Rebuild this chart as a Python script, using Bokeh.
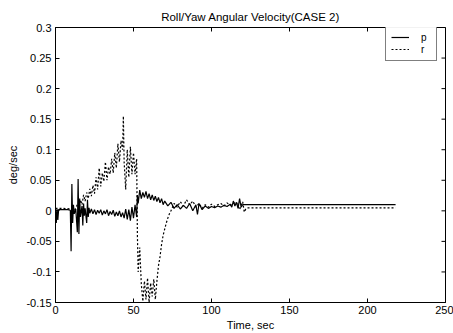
from math import pi
from bokeh.plotting import figure
from bokeh.models import Range1d, FixedTicker, Legend, LegendItem
from bokeh.embed import file_html
from bokeh.resources import INLINE

# ---- data ----
t_p = [0, 0.5, 1, 1.5, 2, 4, 6, 8, 9.5, 10, 10.5, 11, 11.5, 12, 13, 14, 14.5, 15, 15.5, 16,
       17, 17.5, 18, 18.5, 19, 20, 20.5, 21, 21.5, 22, 23, 24, 25, 26, 27, 28, 29, 30, 31, 32,
       33, 34, 35, 36, 37, 38, 39, 40, 41, 42, 43, 44, 45, 46, 47, 48, 49, 50, 51, 52,
       52.5, 53, 54, 55, 56, 57, 58, 59, 60, 61, 62, 63, 64, 65, 66, 67, 68, 69, 70, 72,
       74, 76, 78, 80, 82, 84, 86, 88, 90, 91, 92, 94, 96, 98, 100, 102, 104, 106, 108, 110,
       112, 113, 114, 115, 116, 117, 118, 119, 120, 218]
p_vals = [0.002, -0.02, 0.003, -0.015, 0.002, 0.002, 0.002, 0.002, 0.001, -0.066, 0.044, -0.02,
          0.01, -0.005, 0.003, -0.035, 0.052, -0.038, 0.02, -0.01,
          0.008, -0.024, 0.012, -0.008, 0.004, -0.02, 0.018, -0.01, 0.005, -0.004, 0.003, -0.005,
          0.002, -0.006, 0.001, -0.004, 0.002, -0.007, 0.0, -0.005,
          0.002, -0.008, -0.001, -0.006, 0.001, -0.009, -0.002, -0.008, 0.0, -0.01, -0.003, -0.012,
          0.003, -0.014, 0.002, -0.016, 0.006, -0.012, 0.01, -0.01,
          0.026, 0.012, 0.034, 0.02, 0.03, 0.022, 0.032, 0.02, 0.028, 0.018, 0.026, 0.017, 0.024,
          0.015, 0.022, 0.013, 0.02, 0.01, 0.016, 0.008,
          0.014, 0.004, 0.01, 0.003, 0.009, 0.004, 0.012, 0.0, 0.01, -0.006, 0.012, 0.002, 0.008,
          0.004, 0.007, 0.005, 0.008, 0.006, 0.009, 0.007,
          0.011, 0.006, 0.016, 0.008, 0.014, 0.004, 0.02, 0.006, 0.01, 0.01]

t_r = [0, 5, 10, 12, 14, 15, 16, 17, 18, 19, 20, 21, 22, 23, 24, 25, 26, 27, 28, 29, 30, 31,
       32, 33, 34, 35, 36, 37, 38, 39, 40, 41, 42, 43, 43.5, 44, 45, 46, 47, 48, 49, 50, 51,
       52, 52.5, 53, 54, 55, 56, 57, 58, 59, 60, 61, 62, 63, 64, 65, 66, 67, 68, 69, 70, 71,
       72, 73, 74, 75, 76, 78, 80, 82, 84, 86, 88, 90, 92, 94, 96, 98, 100, 102, 104, 106,
       108, 110, 112, 114, 116, 118, 120, 121, 122, 123, 125, 218]
r_vals = [0.004, 0.004, 0.003, 0.0, 0.01, 0.004, 0.018, 0.01, 0.026, 0.016, 0.03, 0.02, 0.036,
          0.024, 0.042, 0.028, 0.055, 0.035, 0.07, 0.04, 0.062, 0.048,
          0.08, 0.05, 0.072, 0.06, 0.085, 0.062, 0.095, 0.07, 0.11, 0.08, 0.115, 0.1, 0.155, 0.08,
          0.035, 0.1, 0.055, 0.105, 0.06, 0.095, 0.06,
          0.085, -0.04, -0.1, -0.06, -0.12, -0.148, -0.115, -0.145, -0.11, -0.15, -0.118, -0.14,
          -0.112, -0.145, -0.115, -0.09, -0.075, -0.055, -0.04, -0.03, -0.02,
          -0.012, -0.005, 0.0, 0.006, 0.012, 0.006, 0.015, 0.008, 0.018, 0.01, 0.016, 0.006,
          0.012, 0.004, 0.01, 0.006, 0.011, 0.007, 0.01, 0.012,
          0.008, 0.013, 0.009, 0.012, 0.014, 0.002, 0.015, -0.002, 0.003, 0.005, 0.005, 0.005]

x_ticks = [0, 50, 100, 150, 200, 250]
y_ticks = [-0.15, -0.1, -0.05, 0, 0.05, 0.1, 0.15, 0.2, 0.25, 0.3]
y_tick_labels = {-0.15: "-0.15", -0.1: "-0.1", -0.05: "-0.05", 0: "0", 0.05: "0.05",
                 0.1: "0.1", 0.15: "0.15", 0.2: "0.2", 0.25: "0.25", 0.3: "0.3"}

FONT = "Liberation Sans"

p = figure(width=453, height=333, output_backend="svg", toolbar_location=None,
           x_range=Range1d(x_ticks[0], x_ticks[-1]), y_range=Range1d(y_ticks[0], y_ticks[-1]),
           title="Roll/Yaw Angular Velocity(CASE 2)",
           min_border_left=55, min_border_right=8, min_border_top=27, min_border_bottom=30)
p.title.align = "center"
p.title.text_font = FONT
p.title.text_font_size = "11.5px"
p.title.text_font_style = "normal"
p.title.text_color = "black"
p.title.standoff = 10

p.xgrid.visible = False
p.ygrid.visible = False
p.outline_line_color = "black"
p.outline_line_width = 1
p.background_fill_color = "white"
p.border_fill_color = "white"

l1 = p.line(t_p, p_vals, line_color="black", line_width=1.2)
l2 = p.line(t_r, r_vals, line_color="black", line_width=1.2, line_dash="2 2")

# mirrored inward ticks on the top and right edges of the box
p.scatter(x=x_ticks, y=[y_ticks[-1]] * len(x_ticks), marker="dash", angle=pi / 2,
          size=8, line_color="black", line_width=1)
p.scatter(x=[x_ticks[-1]] * len(y_ticks), y=y_ticks, marker="dash",
          size=8, line_color="black", line_width=1)

def style(ax, ticks):
    ax.ticker = FixedTicker(ticks=ticks)
    ax.major_tick_in = 4
    ax.major_tick_out = 0
    ax.minor_tick_in = 0
    ax.minor_tick_out = 0
    ax.axis_line_color = "black"
    ax.major_tick_line_color = "black"
    ax.major_label_text_font = FONT
    ax.major_label_text_font_size = "11px"
    ax.major_label_text_color = "black"
    ax.axis_label_text_font = FONT
    ax.axis_label_text_font_size = "11px"
    ax.axis_label_text_font_style = "normal"
    ax.axis_label_text_color = "black"

xa = p.xaxis[0]
style(xa, x_ticks)
xa.axis_label = "Time, sec"
xa.major_label_standoff = 3
xa.axis_label_standoff = 2

ya = p.yaxis[0]
style(ya, y_ticks)
ya.axis_label = "deg/sec"
ya.major_label_overrides = y_tick_labels
ya.major_label_standoff = 4
ya.axis_label_standoff = 4

legend = Legend(items=[LegendItem(label="p", renderers=[l1]),
                       LegendItem(label="r", renderers=[l2])],
                location=(330, 241))
legend.label_text_font = FONT
legend.label_text_font_size = "10px"
legend.label_text_color = "black"
legend.glyph_width = 18
legend.glyph_height = 12
legend.label_standoff = 12
legend.label_height = 12
legend.label_width = 10
legend.padding = 5
legend.spacing = 0
legend.margin = 0
legend.border_line_color = "black"
legend.border_line_width = 1
legend.background_fill_color = "white"
p.add_layout(legend, "center")

open("out.html", "w").write(file_html(p, INLINE))
